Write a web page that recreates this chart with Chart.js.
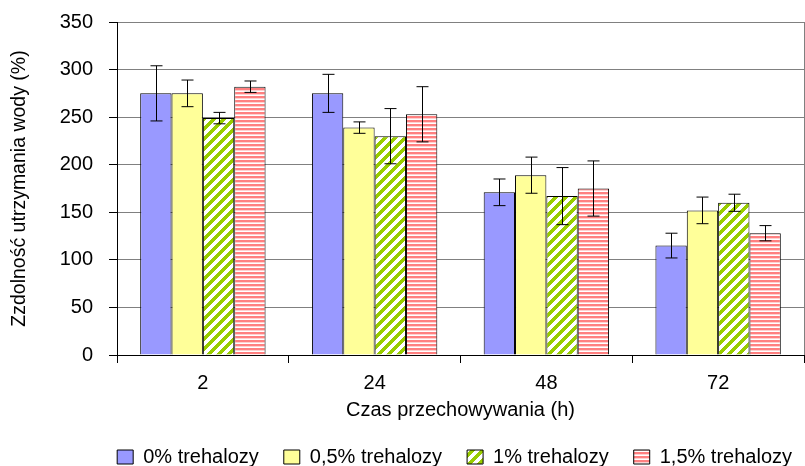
<!DOCTYPE html>
<html>
<head>
<meta charset="utf-8">
<script src="https://cdn.jsdelivr.net/npm/chart.js@4/dist/chart.umd.min.js"></script>
<style>
  html, body { margin: 0; padding: 0; background: #fff; }
  #wrap { width: 805px; height: 466px; }
</style>
</head>
<body>
<div id="wrap"><canvas id="wykres" width="805" height="466"></canvas></div>
<script>
// dane
const czasy = ["2", "24", "48", "72"];
const serie = ["0% trehalozy", "0,5% trehalozy", "1% trehalozy", "1,5% trehalozy"];
const t0 = [275, 275, 171, 115];
const t05 = [275, 239, 189, 152];
const t1 = [249, 230, 167, 160];
const t15 = [282, 253, 175, 128];
// odchylenia (slupki bledow)
const e0 = [29, 20, 14, 13];
const e05 = [14, 6, 19, 14];
const e1 = [6, 29, 30, 9];
const e15 = [6, 29, 29, 8];

// wzory wypelnienia
function paski() {
  const c = document.createElement("canvas");
  c.width = 10; c.height = 10;
  const g = c.getContext("2d");
  g.fillStyle = "#fff";
  g.fillRect(0, 0, 10, 10);
  g.fillStyle = "#99cc00";
  for (let y = 0; y < 10; y++) {
    for (let x = 0; x < 10; x++) {
      if ((x + y) % 10 < 5) g.fillRect(x, y, 1, 1);
    }
  }
  return g.createPattern(c, "repeat");
}
function poziome() {
  const c = document.createElement("canvas");
  c.width = 4; c.height = 4;
  const g = c.getContext("2d");
  g.fillStyle = "#fff";
  g.fillRect(0, 0, 4, 4);
  g.fillStyle = "#ff8080";
  g.fillRect(0, 0, 4, 2);
  g.fillStyle = "#ffd0d0";
  g.fillRect(0, 2, 4, 1);
  return g.createPattern(c, "repeat");
}

const bledy = {
  id: "bledy",
  afterLayout(chart) {
    // legenda przesunieta w prawo jak w oryginale
    chart.legend.left += 13;
    chart.legend.right += 13;
  },
  afterDatasetsDraw(chart) {
    const ctx = chart.ctx;
    const y = chart.scales.y;
    ctx.save();
    ctx.strokeStyle = "#000";
    ctx.lineWidth = 1;
    chart.data.datasets.forEach((ds, i) => {
      const meta = chart.getDatasetMeta(i);
      meta.data.forEach((bar, j) => {
        const v = ds.data[j], e = ds.err[j];
        const x = Math.round(bar.x) + 0.5;
        const yt = y.getPixelForValue(v + e), yb = y.getPixelForValue(v - e);
        ctx.beginPath();
        ctx.moveTo(x, yt); ctx.lineTo(x, yb);
        ctx.moveTo(x - 6, yt); ctx.lineTo(x + 6, yt);
        ctx.moveTo(x - 6, yb); ctx.lineTo(x + 6, yb);
        ctx.stroke();
      });
    });
    ctx.restore();
  },
  afterDraw(chart) {
    const a = chart.chartArea, ctx = chart.ctx;
    ctx.save();
    ctx.strokeStyle = "#808080";
    ctx.lineWidth = 1;
    ctx.beginPath();
    ctx.moveTo(Math.round(a.right) + 0.5, a.top);
    ctx.lineTo(Math.round(a.right) + 0.5, a.bottom);
    ctx.stroke();
    ctx.restore();
  }
};

Chart.defaults.font.family = "Arial, 'Liberation Sans', sans-serif";
Chart.defaults.color = "#000";

new Chart(document.getElementById("wykres"), {
  type: "bar",
  data: {
    labels: czasy,
    datasets: [
      { label: serie[0], data: t0, err: e0, backgroundColor: "#9999ff" },
      { label: serie[1], data: t05, err: e05, backgroundColor: "#ffff99" },
      { label: serie[2], data: t1, err: e1, backgroundColor: paski() },
      { label: serie[3], data: t15, err: e15, backgroundColor: poziome() }
    ].map(d => Object.assign(d, { borderColor: "#000", borderWidth: 1, barPercentage: 1, categoryPercentage: 0.73 }))
  },
  options: {
    responsive: false,
    animation: false,
    layout: { padding: { top: 0, right: 1, bottom: -11, left: 0 } },
    plugins: {
      tooltip: { enabled: false },
      legend: {
        position: "bottom",
        align: "end",
        labels: { boxWidth: 16, boxHeight: 14, padding: 25, font: { size: 20 } }
      }
    },
    scales: {
      x: {
        offset: true,
        grid: { offset: true, drawOnChartArea: false, tickLength: 8, tickColor: "#000" },
        border: { color: "#000" },
        ticks: { font: { size: 20 }, padding: 8 },
        title: { display: true, text: "Czas przechowywania (h)", font: { size: 20 }, padding: { top: -5, bottom: 0 } }
      },
      y: {
        min: 0, max: 350,
        ticks: { stepSize: 50, font: { size: 20 }, padding: 16 },
        grid: { color: "#808080", tickLength: 8, tickColor: "#000" },
        border: { color: "#000" },
        title: { display: true, text: "Zzdolność utrzymania wody (%)", font: { size: 19.5 }, padding: { top: 8, bottom: 4 } },
        afterFit(s) { s.width = 117; s.paddingTop = 22; }
      }
    }
  },
  plugins: [bledy]
});
</script>
</body>
</html>
